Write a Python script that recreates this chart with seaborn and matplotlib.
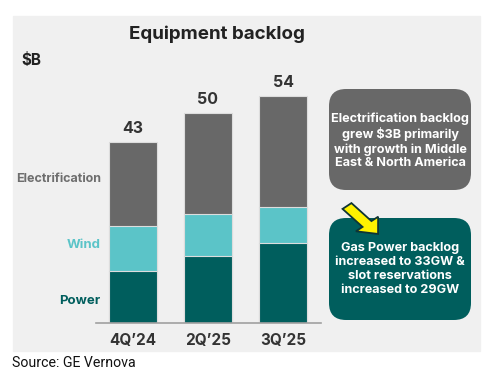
import pandas as pd
import matplotlib.pyplot as plt
import seaborn as sns
from matplotlib.patches import FancyBboxPatch, Rectangle, FancyArrow

# Data ($B)
quarters = ["4Q\u201924", "2Q\u201925", "3Q\u201925"]
power = [12.4, 16.0, 19.0]
wind = [10.8, 10.0, 8.6]
electrification = [19.8, 24.0, 26.4]
totals = [43, 50, 54]

df = pd.DataFrame({"quarter": quarters, "power": power, "wind": wind,
                   "electrification": electrification})
df["power_wind"] = df["power"] + df["wind"]
df["total"] = df["power_wind"] + df["electrification"]

c_power = "#005E5D"
c_wind = "#5BC4C8"
c_elec = "#686868"
bg = "#F0F0F0"

sns.set_style("white")
plt.rcParams["font.family"] = ["Inter", "DejaVu Sans"]

W, H = 487, 374
fig = plt.figure(figsize=(W / 100, H / 100), dpi=100)


def fx(x):
    return x / W


def fy(y):
    return 1 - y / H


# panel background
fig.patches.append(Rectangle((fx(13), fy(351)), fx(467), 335 / H,
                             transform=fig.transFigure, color=bg, zorder=-5))

# bar axes: baseline at y=323px, 4.2 px per $B
ax = fig.add_axes([fx(95.5), fy(323), fx(225), 252 / H])
ax.set_facecolor("none")
ax.set_zorder(2)
edge = dict(edgecolor="#dddddd", linewidth=0.8)
sns.barplot(data=df, x="quarter", y="total", color=c_elec, width=0.64,
            saturation=1, ax=ax, **edge)
sns.barplot(data=df, x="quarter", y="power_wind", color=c_wind, width=0.64,
            saturation=1, ax=ax, **edge)
sns.barplot(data=df, x="quarter", y="power", color=c_power, width=0.64,
            saturation=1, ax=ax, **edge)
ax.set_xlim(-0.5, 2.5)
ax.set_ylim(0, 60)
ax.set_xlabel("")
ax.set_ylabel("")
ax.set_yticks([])
ax.tick_params(axis="x", length=0, pad=7)
for lbl in ax.get_xticklabels():
    lbl.set_fontweight("bold")
    lbl.set_fontsize(11)
    lbl.set_color("#333333")
for s in ["top", "left", "right"]:
    ax.spines[s].set_visible(False)
ax.spines["bottom"].set_color("#a0a0a0")
ax.spines["bottom"].set_linewidth(1.2)

for i, t in enumerate(totals):
    ax.text(i, t + 1.5, str(t), ha="center", va="bottom", fontsize=11.5,
            fontweight="bold", color="#333333")

# segment labels
ax.text(-0.43, 34.3, "Electrification", ha="right", va="center",
        fontsize=9, fontweight="bold", color="#6e6e6e")
ax.text(-0.43, 18.6, "Wind", ha="right", va="center",
        fontsize=9.5, fontweight="bold", color=c_wind)
ax.text(-0.43, 5.2, "Power", ha="right", va="center",
        fontsize=9.5, fontweight="bold", color=c_power)

# title and unit
fig.text(fx(217), fy(34), "Equipment backlog", ha="center", va="center",
         fontsize=13.5, fontweight="bold", color="#222222")
fig.text(fx(21), fy(61), "$B", ha="left", va="center",
         fontsize=11, fontweight="bold", color="#222222")

# callout boxes
for (y0, y1, col) in [(87, 192, c_elec), (216, 322, c_power)]:
    fig.patches.append(FancyBboxPatch(
        (fx(329), fy(y1 - 2)), fx(142), (y1 - y0 - 4) / H,
        boxstyle="round,pad=0.0,rounding_size=0.035",
        transform=fig.transFigure, facecolor=col, edgecolor="none",
        mutation_aspect=W / H, zorder=1))

fig.text(fx(400), fy(141), "Electrification backlog\ngrew $3B primarily\n"
         "with growth in Middle\nEast & North America",
         ha="center", va="center", fontsize=9.1, fontweight="bold",
         color="white", linespacing=1.2)
fig.text(fx(400), fy(269), "Gas Power backlog\nincreased to 33GW &\n"
         "slot reservations\nincreased to 29GW",
         ha="center", va="center", fontsize=9.1, fontweight="bold",
         color="white", linespacing=1.2)

# yellow arrow
fig.patches.append(FancyArrow(fx(347), fy(206), fx(20), -18 / H,
                              width=0.024, head_width=0.06, head_length=0.035,
                              length_includes_head=False,
                              transform=fig.transFigure, facecolor="#FFF200",
                              edgecolor="#0f3535", linewidth=1.3, zorder=3))

# source
fig.text(fx(12), fy(363), "Source: GE Vernova", ha="left", va="center",
         fontsize=10.2, color="#111111", family=["Roboto", "DejaVu Sans"])

fig.savefig("out.png", dpi=100, facecolor="white")
